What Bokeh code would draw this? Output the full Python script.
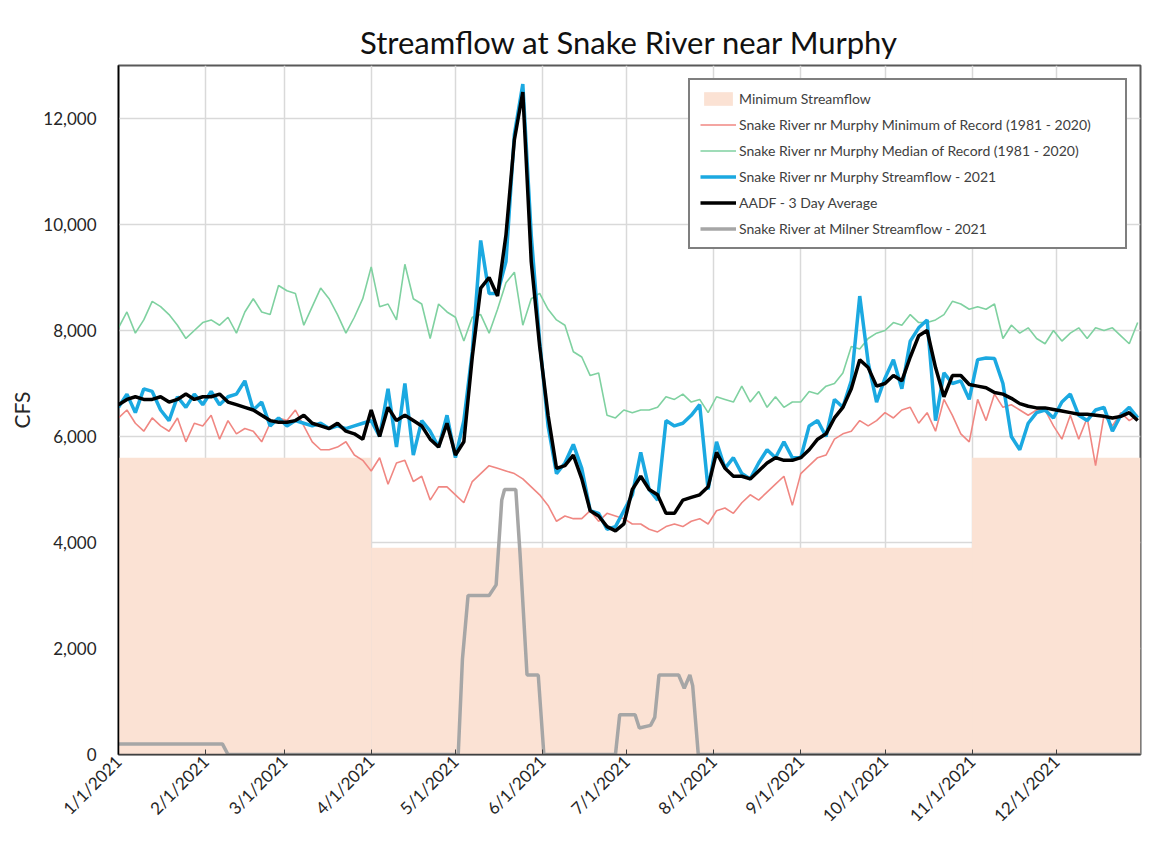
import math
import pandas as pd
from bokeh.plotting import figure
from bokeh.models import Range1d, FixedTicker, NumeralTickFormatter
from bokeh.embed import file_html
from bokeh.resources import INLINE

JAN1 = pd.Timestamp("2021-01-01")

# Sample days (day of year offset from 1/1/2021), every 3 days
sample_days = list(range(0, 365, 3))

min_of_record = [
    6350, 6500, 6250, 6100, 6350, 6200, 6100, 6350, 5900, 6250,
    6200, 6400, 5950, 6300, 6050, 6150, 6100, 5900, 6250, 6350,
    6300, 6500, 6200, 5900, 5750, 5750, 5800, 5900, 5650, 5550,
    5350, 5600, 5100, 5500, 5550, 5150, 5250, 4800, 5050, 5050,
    4900, 4750, 5150, 5300, 5450, 5400, 5350, 5300, 5200, 5050,
    4900, 4700, 4400, 4500, 4450, 4450, 4600, 4400, 4550, 4500,
    4450, 4350, 4350, 4250, 4200, 4300, 4350, 4300, 4400, 4450,
    4350, 4600, 4650, 4550, 4750, 4900, 4800, 4950, 5100, 5250,
    4700, 5300, 5450, 5600, 5650, 5950, 6050, 6100, 6300, 6200,
    6300, 6450, 6350, 6500, 6550, 6250, 6450, 6100, 6700, 6400,
    6050, 5900, 6700, 6300, 6800, 6550, 6600, 6500, 6400, 6500,
    6500, 6200, 5950, 6400, 5950, 6350, 5450, 6400, 6200, 6450,
    6300, 6400,
]

median_of_record = [
    8050, 8350, 7950, 8200, 8550, 8450, 8300, 8100, 7850, 8000,
    8150, 8200, 8100, 8250, 7950, 8350, 8600, 8350, 8300, 8850,
    8750, 8700, 8100, 8450, 8800, 8600, 8300, 7950, 8250, 8600,
    9200, 8450, 8500, 8200, 9250, 8600, 8500, 7850, 8500, 8350,
    8250, 7800, 8250, 8300, 7950, 8400, 8900, 9100, 8100, 8600,
    8700, 8400, 8200, 8100, 7600, 7500, 7150, 7200, 6400, 6350,
    6500, 6450, 6500, 6500, 6550, 6750, 6700, 6800, 6650, 6700,
    6450, 6750, 6700, 6650, 6950, 6650, 6850, 6550, 6750, 6550,
    6650, 6650, 6850, 6800, 6950, 7000, 7200, 7700, 7650, 7850,
    7950, 8000, 8150, 8100, 8300, 8150, 8150, 8200, 8300, 8550,
    8500, 8400, 8450, 8400, 8500, 7850, 8100, 7950, 8050, 7850,
    7750, 8000, 7800, 7950, 8050, 7850, 8050, 8000, 8050, 7900,
    7750, 8150,
]

streamflow_2021 = [
    6550, 6800, 6450, 6900, 6850, 6500, 6300, 6750, 6550, 6800,
    6600, 6850, 6600, 6750, 6800, 7050, 6500, 6650, 6200, 6350,
    6200, 6300, 6250, 6200, 6250, 6150, 6200, 6150, 6200, 6250,
    6300, 6000, 6900, 5800, 7000, 5650, 6300, 6100, 5800, 6400,
    5600, 6300, 7600, 9700, 8700, 8700, 9300, 11700, 12650, 9800,
    7800, 6200, 5300, 5500, 5850, 5400, 4600, 4550, 4250, 4300,
    4600, 4900, 5700, 5000, 4800, 6300, 6200, 6250, 6400, 6600,
    5000, 5900, 5400, 5600, 5300, 5200, 5500, 5750, 5600, 5900,
    5600, 5600, 6200, 6300, 6000, 6700, 6550, 7050, 8650, 7400,
    6650, 7100, 7450, 6900, 7800, 8050, 8200, 6300, 7200, 7000,
    7050, 6700, 7450, 7480, 7470, 7000, 6000, 5750, 6250, 6450,
    6500, 6350, 6650, 6800, 6400, 6300, 6500, 6550, 6100, 6400,
    6550, 6350,
]

aadf_3day = [
    6600, 6700, 6750, 6700, 6700, 6750, 6650, 6700, 6800, 6700,
    6750, 6750, 6800, 6650, 6600, 6550, 6500, 6400, 6300, 6270,
    6270, 6300, 6400, 6250, 6200, 6150, 6250, 6100, 6050, 5950,
    6500, 6000, 6550, 6300, 6400, 6300, 6200, 5950, 5800, 6250,
    5650, 5900, 7500, 8800, 9000, 8650, 9800, 11600, 12500, 9300,
    7700, 6400, 5400, 5450, 5650, 5200, 4600, 4500, 4300, 4220,
    4350, 5000, 5250, 5000, 4900, 4550, 4550, 4800, 4850, 4900,
    5050, 5700, 5400, 5250, 5250, 5200, 5350, 5500, 5600, 5550,
    5550, 5600, 5750, 5950, 6050, 6350, 6550, 6900, 7450, 7300,
    6950, 7000, 7150, 7050, 7500, 7900, 8000, 7300, 6750, 7150,
    7150, 6980, 6950, 6920, 6830, 6800, 6720, 6620, 6570, 6540,
    6540, 6510, 6480, 6450, 6420, 6420, 6400, 6380, 6350, 6380,
    6450, 6300,
]

milner_days = [0, 37, 39, 121, 122.5, 124.5, 132, 134.5, 136.5, 137.5, 141.5, 143,
               145.5, 149.5, 151.5, 177, 178.5, 184, 185.5, 189.5, 191, 192.5,
               199.5, 201.5, 203.5, 204.5, 206.5, 364]
milner_cfs = [200, 200, 0, 0, 1800, 3000, 3000, 3200, 4800, 5000, 5000, 3800,
              1500, 1500, 0, 0, 750, 750, 500, 550, 700, 1500,
              1500, 1250, 1500, 1300, 0, 0]

minflow_start = ["2021-01-01", "2021-04-01", "2021-11-01"]
minflow_end = ["2021-04-01", "2021-11-01", "2021-12-31"]
minflow_cfs = [5600, 3900, 5600]

month_labels = ["1/1/2021", "2/1/2021", "3/1/2021", "4/1/2021", "5/1/2021", "6/1/2021",
                "7/1/2021", "8/1/2021", "9/1/2021", "10/1/2021", "11/1/2021", "12/1/2021"]
cfs_ticks = [0, 2000, 4000, 6000, 8000, 10000, 12000]

for s in (min_of_record, median_of_record, streamflow_2021, aadf_3day):
    assert len(s) == len(sample_days), len(s)

month_days = [(pd.to_datetime(s, format="%m/%d/%Y") - JAN1).days for s in month_labels]
mf_left = [(pd.Timestamp(s) - JAN1).days for s in minflow_start]
mf_right = [(pd.Timestamp(s) - JAN1).days for s in minflow_end]

FONT = "Lato"

p = figure(width=1150, height=838, output_backend="svg", toolbar_location=None,
           x_range=Range1d(0, 364), y_range=Range1d(0, 13000),
           min_border_left=118, min_border_right=10, min_border_top=65, min_border_bottom=84,
           title="Streamflow at Snake River near Murphy")

p.title.align = "center"
p.title.text_font = FONT
p.title.text_font_size = "31px"
p.title.text_font_style = "normal"
p.title.text_color = "#111111"
p.title.standoff = 10

p.background_fill_color = "white"
p.border_fill_color = "white"
p.outline_line_color = "#595959"
p.outline_line_width = 2

p.quad(left=mf_left, right=mf_right, bottom=0, top=minflow_cfs,
       fill_color="#FBE2D4", line_color=None, legend_label="Minimum Streamflow")
p.line(sample_days, min_of_record, line_color="#F08782", line_width=1.6,
       legend_label="Snake River nr Murphy Minimum of Record (1981 - 2020)")
p.line(sample_days, median_of_record, line_color="#7FD1A0", line_width=1.6,
       legend_label="Snake River nr Murphy Median of Record (1981 - 2020)")
p.line(sample_days, streamflow_2021, line_color="#1BA9E1", line_width=3.5,
       legend_label="Snake River nr Murphy Streamflow - 2021")
p.line(sample_days, aadf_3day, line_color="black", line_width=3.5,
       legend_label="AADF - 3 Day Average")
p.line(milner_days, milner_cfs, line_color="#A6A6A6", line_width=3.5,
       legend_label="Snake River at Milner Streamflow - 2021")

# axes
xa = p.xaxis[0]
xa.ticker = FixedTicker(ticks=month_days)
xa.major_label_overrides = {d: s for d, s in zip(month_days, month_labels)}
xa.major_label_orientation = math.pi / 4
xa.major_label_text_font = FONT
xa.major_label_text_font_size = "17px"
xa.major_label_text_color = "#262626"
xa.major_tick_in = 5
xa.major_tick_out = 0
xa.minor_tick_line_color = None
xa.major_tick_line_color = "#404040"
xa.axis_line_color = "#404040"
xa.axis_line_width = 1.5
xa.major_label_standoff = 4

ya = p.yaxis[0]
ya.ticker = FixedTicker(ticks=cfs_ticks)
ya.formatter = NumeralTickFormatter(format="0,0")
ya.major_label_text_font = FONT
ya.major_label_text_font_size = "17px"
ya.major_label_text_color = "#262626"
ya.major_tick_line_color = None
ya.minor_tick_line_color = None
ya.axis_line_color = "black"
ya.axis_line_width = 1.5
ya.major_label_standoff = 16
ya.axis_label = "CFS"
ya.axis_label_text_font = FONT
ya.axis_label_text_font_size = "21px"
ya.axis_label_text_font_style = "normal"
ya.axis_label_text_color = "#262626"
ya.axis_label_standoff = 6

p.xgrid.grid_line_color = "#D9D9D9"
p.xgrid.grid_line_width = 1.5
p.ygrid.grid_line_color = "#D9D9D9"
p.ygrid.grid_line_width = 1.5

lg = p.legend[0]
lg.location = "top_right"
lg.margin = 13
lg.padding = 10
lg.spacing = 9
lg.glyph_height = 17
lg.label_height = 17
lg.glyph_width = 36
lg.label_standoff = 3
lg.label_width = 376
lg.label_text_font = FONT
lg.label_text_font_size = "14px"
lg.label_text_color = "#404040"
lg.border_line_color = "black"
lg.border_line_width = 2
lg.background_fill_color = "white"
lg.background_fill_alpha = 1.0

open("out.html", "w").write(file_html(p, INLINE))
